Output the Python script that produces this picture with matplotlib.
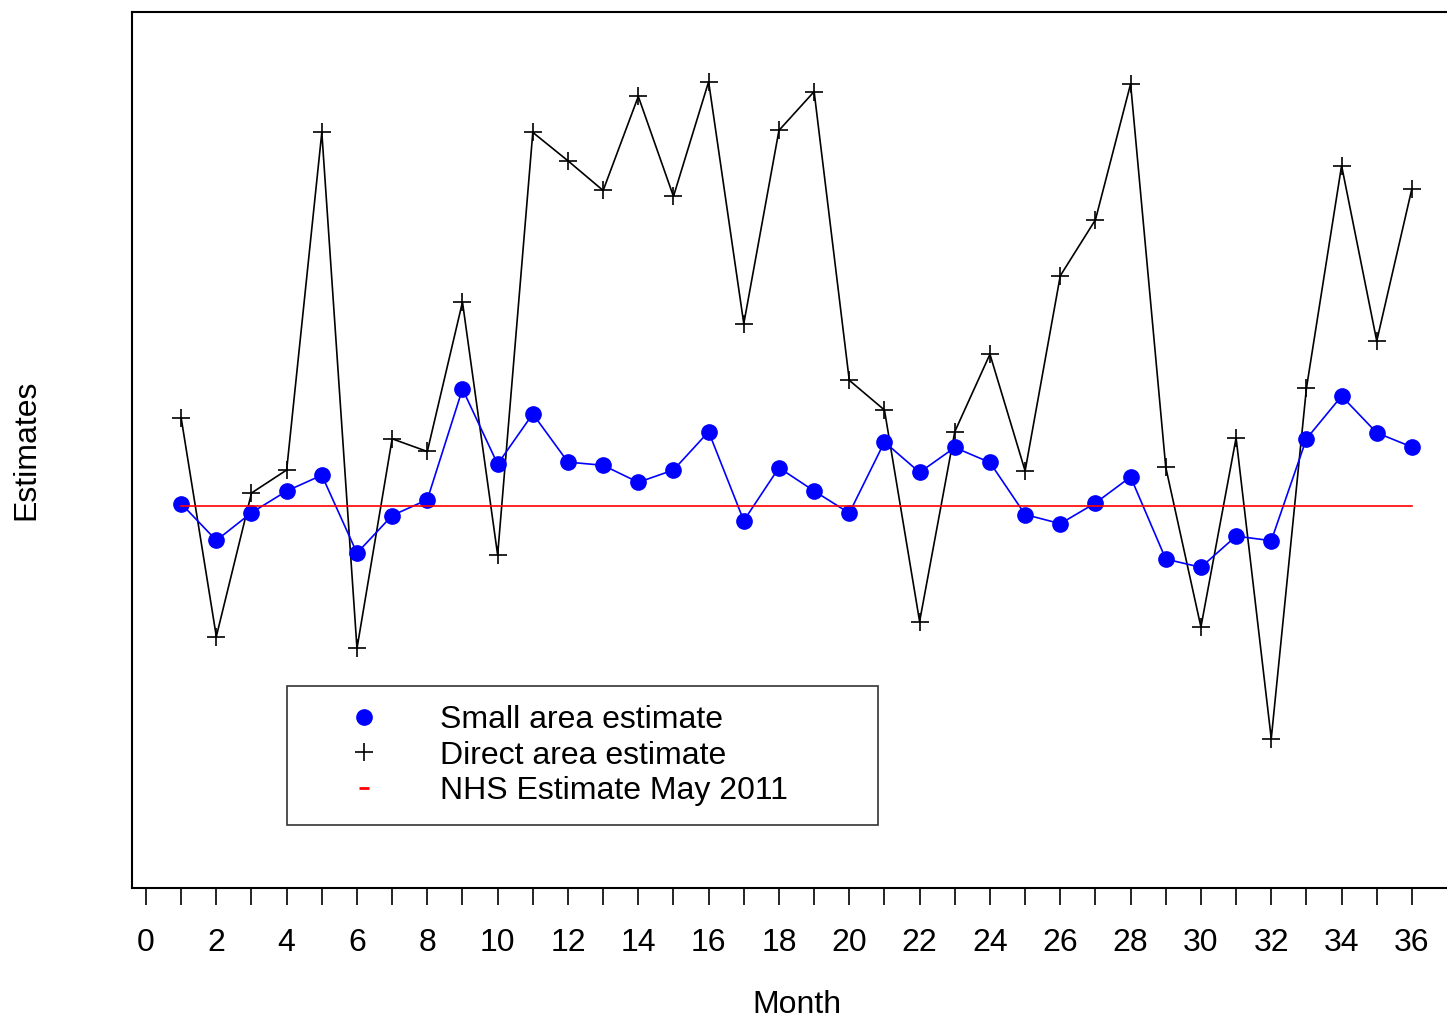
import matplotlib
matplotlib.use("Agg")
import matplotlib.pyplot as plt
from matplotlib.lines import Line2D

plt.rcParams['font.family'] = ['Liberation Sans', 'DejaVu Sans']

months = list(range(1, 37))
small_area = [38.44, 34.76, 37.53, 39.70, 41.28, 33.49, 37.25, 38.83, 49.90, 42.39,
              47.41, 42.59, 42.27, 40.57, 41.80, 45.63, 36.73, 42.03, 39.70, 37.49,
              44.60, 41.56, 44.05, 42.55, 37.35, 36.43, 38.50, 41.11, 32.89, 32.07,
              35.19, 34.73, 44.92, 49.19, 45.52, 44.10]
direct_area = [47.01, 25.15, 39.50, 41.80, 75.56, 23.96, 44.92, 43.65, 58.60, 33.30,
               75.56, 72.72, 69.75, 79.16, 69.16, 80.63, 56.43, 75.76, 79.64, 50.77,
               47.80, 26.65, 45.63, 53.38, 41.71, 61.22, 66.82, 80.41, 42.07, 26.10,
               45.01, 14.93, 49.97, 72.24, 54.70, 69.94]
nhs_value = 38.24
xticks = list(range(0, 37))
xtick_labels = [str(t) if t % 2 == 0 else '' for t in xticks]
labels = ['Small area estimate', 'Direct area estimate', 'NHS Estimate May 2011']

W, H = 1447, 1019
fig = plt.figure(figsize=(W / 100, H / 100), dpi=100)
ax = fig.add_axes([132 / W, (H - 888) / H, (1452 - 132) / W, 876 / H])

ax.plot(months, direct_area, color='black', lw=1.2, marker='+', ms=13, mew=1.2, zorder=2)
ax.plot(months, small_area, color='blue', lw=1.2, marker='o', ms=11, mec='blue', zorder=3)
ax.plot([months[0], months[-1]], [nhs_value, nhs_value], color='red', lw=1.2, zorder=4)

ax.set_xlim(-0.398, 37.14)
ax.set_ylim(0, 87.6)
ax.set_xticks(xticks)
ax.set_xticklabels(xtick_labels, fontsize=23)
ax.set_yticks([])
ax.tick_params(axis='x', direction='out', length=12, width=1.2, pad=17)
ax.spines['right'].set_visible(False)
for s in ['left', 'top', 'bottom']:
    ax.spines[s].set_linewidth(1.5)

ax.set_xlabel('Month', fontsize=23)
ax.xaxis.set_label_coords((797 - 132) / (1452 - 132), -0.117)
ax.xaxis.label.set_verticalalignment('top')
ax.set_ylabel('Estimates', fontsize=23, labelpad=65)

handles = [
    Line2D([], [], ls='none', marker='o', color='blue', ms=11),
    Line2D([], [], ls='none', marker='+', color='black', ms=13, mew=1.2),
    Line2D([], [], ls='none', marker='_', color='red', ms=7, mew=2),
]
bx0, by0, bx1, by1 = 287, 686, 878, 825
fx = lambda px: (px - 132) / (1452 - 132)
fy = lambda py: (888 - py) / 876
leg = ax.legend(handles, labels, loc='upper left', mode='expand',
                bbox_to_anchor=(fx(bx0), fy(by1), fx(bx1) - fx(bx0), fy(by0) - fy(by1)),
                fontsize=23, frameon=True, fancybox=False, edgecolor='black',
                borderpad=0.59, handlelength=3.62, handletextpad=0.59,
                labelspacing=0.18, borderaxespad=0)
leg.get_frame().set_linewidth(1.2)

fig.savefig('out.png', dpi=100)
